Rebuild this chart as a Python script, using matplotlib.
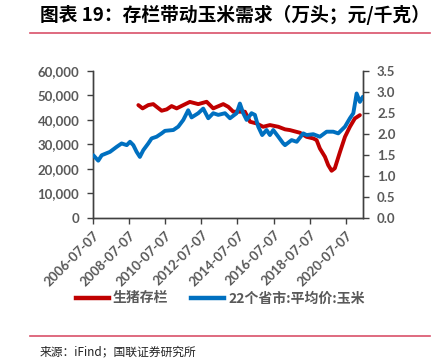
import matplotlib
matplotlib.use("Agg")
import matplotlib.pyplot as plt
import pandas as pd
from matplotlib.lines import Line2D

# ---------------- data ----------------
corn_dates = ["2006-07-07", "2006-10-15", "2006-12-25", "2007-06-10", "2007-10-25",
              "2008-02-01", "2008-05-15", "2008-07-20", "2008-09-25", "2008-12-01",
              "2009-02-05", "2009-04-15", "2009-07-25", "2009-10-01", "2010-01-10",
              "2010-04-22", "2010-06-28", "2010-12-15", "2011-03-25", "2011-07-05",
              "2011-10-12", "2011-12-20", "2012-05-03", "2012-08-12", "2012-11-22",
              "2013-03-03", "2013-06-13", "2013-10-27", "2014-02-05", "2014-06-20",
              "2014-08-25", "2014-11-01", "2015-01-08", "2015-04-18", "2015-06-25",
              "2015-09-01", "2015-11-20", "2016-02-17", "2016-04-25", "2016-07-01",
              "2016-10-12", "2017-01-20", "2017-02-25", "2017-07-08", "2017-10-20",
              "2018-03-01", "2018-05-08", "2018-09-20", "2019-02-01", "2019-06-18",
              "2019-10-30", "2020-02-08", "2020-06-24", "2020-10-02", "2020-12-10",
              "2021-02-15", "2021-04-22", "2021-06-20"]
corn_price = [1.49, 1.36, 1.49, 1.57, 1.69,
              1.77, 1.73, 1.81, 1.73, 1.57,
              1.45, 1.61, 1.77, 1.89, 1.93,
              2.01, 2.07, 2.09, 2.17, 2.33,
              2.56, 2.39, 2.49, 2.60, 2.37,
              2.49, 2.45, 2.49, 2.37, 2.49,
              2.72, 2.49, 2.33, 2.49, 2.45,
              2.17, 1.97, 2.09, 1.97, 2.09,
              1.93, 1.77, 1.73, 1.85, 1.81,
              2.01, 1.97, 1.99, 1.93, 2.05,
              2.05, 2.01, 2.17, 2.37, 2.49,
              2.96, 2.76, 2.88]

hog_dates = ["2009-01-05", "2009-04-01", "2009-07-25", "2009-11-03", "2010-01-10",
             "2010-04-22", "2010-08-03", "2010-11-10", "2011-02-20", "2011-07-05",
             "2011-11-15", "2012-05-03", "2012-10-20", "2013-03-03", "2013-09-22",
             "2014-01-01", "2014-04-12", "2014-12-05", "2015-03-18", "2015-07-30",
             "2015-12-10", "2016-04-25", "2016-10-12", "2017-02-25", "2017-06-03",
             "2017-12-25", "2018-05-08", "2018-09-20", "2018-11-27", "2019-02-01",
             "2019-05-15", "2019-07-20", "2019-09-27", "2019-12-01", "2020-03-15",
             "2020-06-24", "2020-10-02", "2021-01-10", "2021-04-22"]
hog_stock = [46000, 44650, 46000, 46400, 45300,
             43700, 44250, 45600, 44650, 46000,
             47300, 46400, 47350, 44650, 46400,
             45300, 43300, 43300, 39200, 38500,
             37150, 37850, 37150, 36100, 35800,
             34700, 33050, 32400, 31700, 28300,
             24900, 21500, 19200, 20200, 26900,
             33050, 37150, 40550, 41900]

tick_dates = ["2006-07-07", "2008-07-07", "2010-07-07", "2012-07-07",
              "2014-07-07", "2016-07-07", "2018-07-07", "2020-07-07"]

title = "图表 19：存栏带动玉米需求（万头；元/千克）"
source = "来源：iFind；国联证券研究所"
label_hog = "生猪存栏"
label_corn = "22个省市:平均价:玉米"

# ---------------- style ----------------
RED = "#C00000"
BLUE = "#0070C0"
GRAY = "#595959"
PINK = "#D9506A"
CJK = ["Noto Sans CJK SC", "DejaVu Sans"]

fig = plt.figure(figsize=(4.36, 3.63), dpi=100)
ax = fig.add_axes([0.214, 0.400, 0.619, 0.405])
ax2 = ax.twinx()

ax.plot(pd.to_datetime(hog_dates), hog_stock, color=RED, lw=2.8, solid_capstyle="round",
        solid_joinstyle="round", zorder=3)
ax2.plot(pd.to_datetime(corn_dates), corn_price, color=BLUE, lw=2.8, solid_capstyle="round",
         solid_joinstyle="round", zorder=3)

ax.set_ylim(0, 60000)
ax.set_yticks(range(0, 60001, 10000))
ax.set_yticklabels([f"{v:,}" for v in range(0, 60001, 10000)])
ax2.set_ylim(0, 3.5)
ax2.set_yticks([i * 0.5 for i in range(8)])
ax2.set_yticklabels([f"{i * 0.5:.1f}" for i in range(8)])

ax.set_xlim(pd.Timestamp("2006-07-07"), pd.Timestamp("2021-06-28"))
ax.set_xticks(pd.to_datetime(tick_dates))
ax.set_xticklabels(tick_dates, rotation=45, ha="right", rotation_mode="anchor")

for a in (ax, ax2):
    a.spines["top"].set_visible(False)
    for s in ("left", "right", "bottom"):
        a.spines[s].set_color("#404040")
        a.spines[s].set_linewidth(1.0)
    a.tick_params(axis="both", direction="out", length=4, width=1, color="#404040",
                  labelcolor=GRAY, labelsize=9.5, pad=2)
    for lab in a.get_xticklabels() + a.get_yticklabels():
        lab.set_fontfamily("Lato")
        lab.set_fontweight("bold")
ax.tick_params(axis="y", pad=6)
ax2.tick_params(axis="y", pad=6)
ax.tick_params(axis="x", pad=4)

# legend
handles = [Line2D([0], [0], color=RED, lw=3.2), Line2D([0], [0], color=BLUE, lw=3.2)]
leg = fig.legend(handles, [label_hog, label_corn], loc="center", bbox_to_anchor=(0.505, 0.178),
                 ncol=2, frameon=False, handlelength=2.4, columnspacing=1.6, handletextpad=0.3,
                 prop={"family": CJK, "size": 10, "weight": "bold"})
for t in leg.get_texts():
    t.set_color(GRAY)

# title, lines, source
fig.text(0.092, 0.958, title, fontsize=13.5, fontweight="bold", family=CJK, color="black",
         va="center", ha="left", style="italic")
fig.add_artist(Line2D([0.069, 0.986], [0.908, 0.908], color=PINK, lw=1.2, transform=fig.transFigure))
fig.add_artist(Line2D([0.069, 0.986], [0.074, 0.074], color=PINK, lw=1.2, transform=fig.transFigure))
fig.text(0.092, 0.031, source, fontsize=8.5, family=CJK, color="#222222", va="center", ha="left")

fig.savefig("out.png", dpi=100)
